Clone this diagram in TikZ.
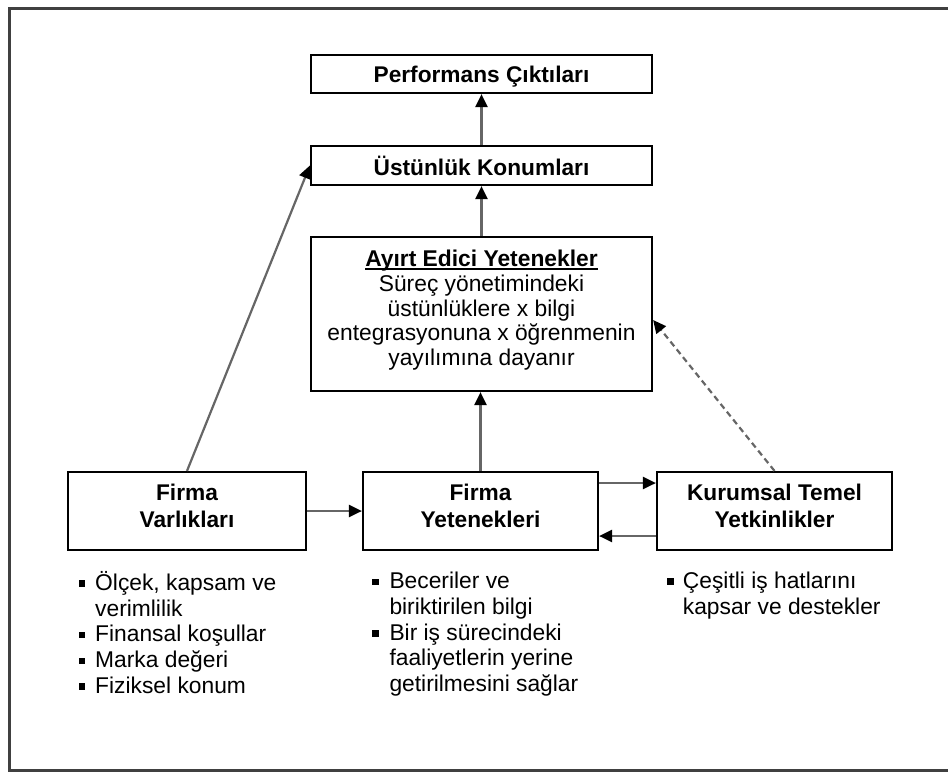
\documentclass[tikz,border=0pt]{standalone}
\usepackage{fontspec}
\setmainfont{Liberation Sans}
\usetikzlibrary{arrows.meta}
\newcommand\sqb{\rule[3.4pt]{6.6pt}{6.6pt}}
\newcommand\dpt[1]{\rule[-#1]{0pt}{#1}}
\newcommand\ulx[1]{\setbox0\hbox{#1}\rlap{\rule[-2.8pt]{\wd0}{1.4pt}}\box0}
\tikzset{
  box/.style={draw=black, line width=2.2pt, inner sep=0pt, align=center,
    font=\fontsize{22.7pt}{27pt}\selectfont\bfseries},
  conn/.style={draw=black!60, line width=2.2pt,
    -{Triangle[length=13pt,width=12pt,color=black]}},
  dconn/.style={conn, dash pattern=on 6pt off 4pt},
  list/.style={anchor=base west, inner sep=0pt, font=\fontsize{22.8pt}{25.8pt}\selectfont},
  frame/.style={draw=black!75, line width=3pt}
}
\begin{document}
\begin{tikzpicture}[x=1pt,y=-1pt]
\useasboundingbox (0,0) rectangle (948,772);
\draw[frame] (948,8) -- (9,8) -- (9,770) -- (948,770);

\node[box, minimum width=341pt, minimum height=38pt] (perf) at (481.5,74)
  {Performans Çıktıları\rule[-2pt]{0pt}{24pt}};
\node[box, minimum width=341pt, minimum height=39pt] (ust) at (481.5,165.5)
  {Üstünlük Konumları\rule[-2pt]{0pt}{23pt}};
\node[box, minimum width=341pt, minimum height=154pt,
      font=\fontsize{22.8pt}{24.6pt}\selectfont] (ayirt) at (481.5,314)
  {{\bfseries\ulx{Ayırt Edici Yetenekler}}\\Süreç yönetimindeki\\üstünlüklere x bilgi\\entegrasyonuna x öğrenmenin\\yayılımına dayanır\dpt{12.5pt}};
\node[box, minimum width=238pt, minimum height=78pt] (varl) at (187,511)
  {Firma\\Varlıkları\dpt{10pt}};
\node[box, minimum width=235pt, minimum height=78pt] (yet) at (480.5,511)
  {Firma\\Yetenekleri\dpt{10pt}};
\node[box, minimum width=235pt, minimum height=78pt] (kur) at (774.5,511)
  {Kurumsal Temel\\Yetkinlikler\dpt{10pt}};

\node[list] (varllist) at (78.3,590.2) {\begin{tabular}[t]{@{}p{16.7pt}@{}l@{}}
\sqb & Ölçek, kapsam ve\\
 & verimlilik\\
\sqb & Finansal koşullar\\
\sqb & Marka değeri\\
\sqb & Fiziksel konum
\end{tabular}};
\node[list] (yetlist) at (371.7,588.5) {\begin{tabular}[t]{@{}p{17.6pt}@{}l@{}}
\sqb & Beceriler ve\\
 & biriktirilen bilgi\\
\sqb & Bir iş sürecindeki\\
 & faaliyetlerin yerine\\
 & getirilmesini sağlar
\end{tabular}};
\node[list] (kurlist) at (666.7,588.3) {\begin{tabular}[t]{@{}p{16pt}@{}l@{}}
\sqb & Çeşitli iş hatlarını\\
 & kapsar ve destekler
\end{tabular}};

\draw[conn] (ust.north) -- (perf.south);
\draw[conn] (ayirt.north) -- (ust.south);
\draw[conn] (yet.north) -- (yet.north |- ayirt.south);
\draw[conn] (varl.north) -- (ust.west);
\draw[conn] (varl.east) -- (yet.west);
\draw[conn] ([yshift=28pt]yet.east) -- ([yshift=28pt]kur.west);
\draw[conn] ([yshift=-25pt]kur.west) -- ([yshift=-25pt]yet.east);
\draw[dconn] (kur.north) -- ([yshift=-6pt]ayirt.east);
\end{tikzpicture}
\end{document}
